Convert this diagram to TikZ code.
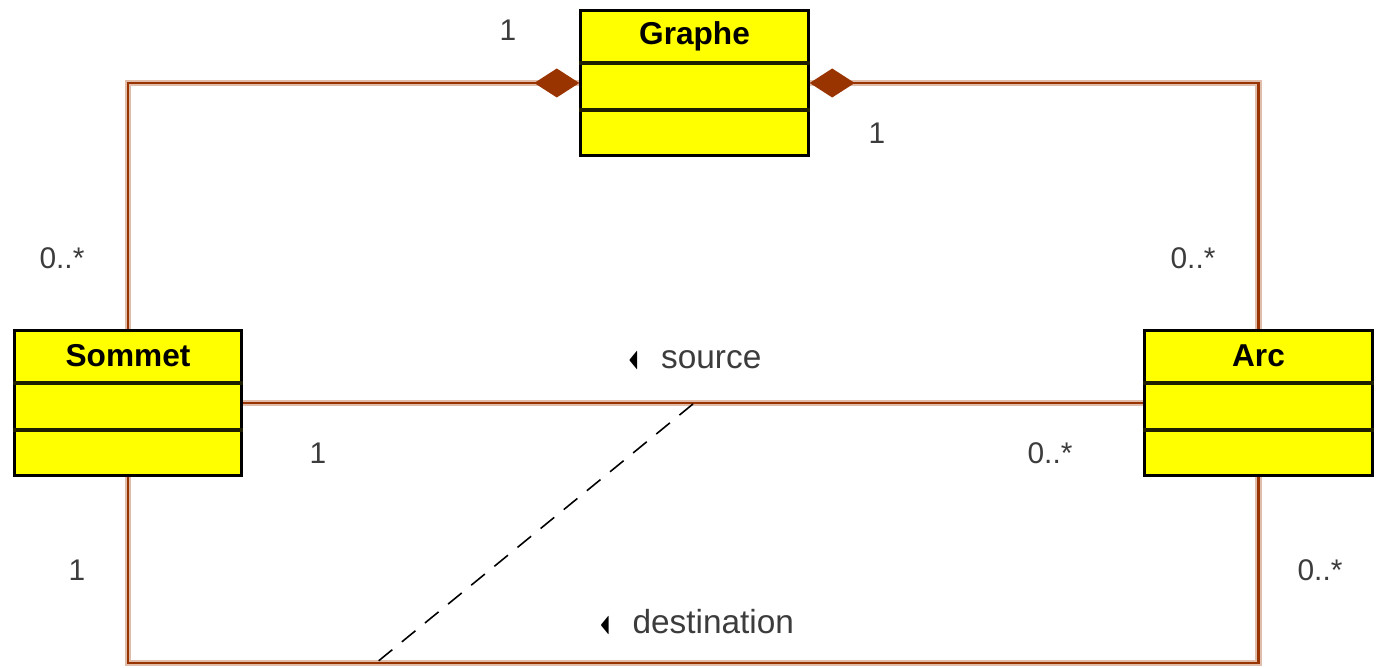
\documentclass[tikz,border=0pt]{standalone}
\usepackage{fontspec}
\setmainfont{Liberation Sans}
\usepackage{amssymb}
\usepackage{graphicx}
\usetikzlibrary{arrows.meta}

\definecolor{classyellow}{RGB}{255,255,0}
\definecolor{assocbrown}{RGB}{153,51,0}
\definecolor{assochalo}{RGB}{224,188,170}
\definecolor{labelgray}{RGB}{60,60,60}

\newcommand{\navmark}{{\color{black}\resizebox{5.5pt}{10pt}{$\blacktriangleleft$}}\hspace{13pt}}

\begin{document}
\begin{tikzpicture}[x=0.02cm,y=-0.02cm,
    classbox/.style={draw=black,line width=1.7pt,fill=classyellow,
      minimum width=4.55cm,minimum height=2.9cm,inner sep=0pt},
    classname/.style={font=\fontsize{18}{20}\selectfont\bfseries},
    compart/.style={line width=2pt,black!88!classyellow},
    halo/.style={draw,-,line width=3.8pt,assochalo},
    assoc/.style={line width=1.2pt,assocbrown,preaction={halo}},
    comp/.style={assoc,{Diamond[length=0.9cm,width=0.58cm]}-},
    link/.style={line width=0.9pt,dash pattern=on 10pt off 7pt},
    mult/.style={font=\fontsize{17}{19}\selectfont,text=labelgray},
    role/.style={font=\fontsize{19}{21}\selectfont,text=labelgray}]

  \useasboundingbox (0,0) rectangle (1377,668);

  % the three classes
  \begin{scope}[every node/.style={classbox}]
    \node (graphe) at (694.5,83)  {};
    \node (sommet) at (128,403)   {};
    \node (arc)    at (1258.5,403) {};
  \end{scope}

  \node[classname] (graphe-name) at ([yshift=-0.54cm]graphe.north) {Graphe};
  \node[classname] (sommet-name) at ([yshift=-0.54cm]sommet.north) {Sommet};
  \node[classname] (arc-name)    at ([yshift=-0.54cm]arc.north)    {Arc};

  % attribute / operation compartments
  \foreach \c in {graphe,sommet,arc} {
    \draw[compart] ([yshift=-1.08cm]\c.north west) -- ([yshift=-1.08cm]\c.north east);
    \draw[compart] ([yshift=-2.02cm]\c.north west) -- ([yshift=-2.02cm]\c.north east);
  }

  % compositions
  \draw[comp] (graphe.west) -| (sommet.north);
  \draw[comp] (graphe.east) -| (arc.north);

  % source / destination
  \coordinate (dst-left)  at (128,663);
  \coordinate (dst-right) at (1258.5,663);
  \draw[assoc] (sommet.east) -- (arc.west);
  \draw[assoc] (sommet.south) -- (dst-left) -- (dst-right) -- (arc.south);

  \coordinate (src-link) at (693,404);
  \coordinate (dst-link) at (376,663);
  \draw[link] (src-link) -- (dst-link);

  % multiplicities
  \node[mult] (m1) at (508,30)   {1};
  \node[mult] (m2) at (877,133)  {1};
  \node[mult] (m3) at (62,258)   {0..*};
  \node[mult] (m4) at (1193,258) {0..*};
  \node[mult] (m5) at (318,453)  {1};
  \node[mult] (m6) at (1050,453) {0..*};
  \node[mult] (m7) at (77,570)   {1};
  \node[mult] (m8) at (1320,570) {0..*};

  % role names
  \node[role] (src-name) at (695,360) {\navmark source};
  \node[role] (dst-name) at (697,622) {\navmark destination};

\end{tikzpicture}
\end{document}
